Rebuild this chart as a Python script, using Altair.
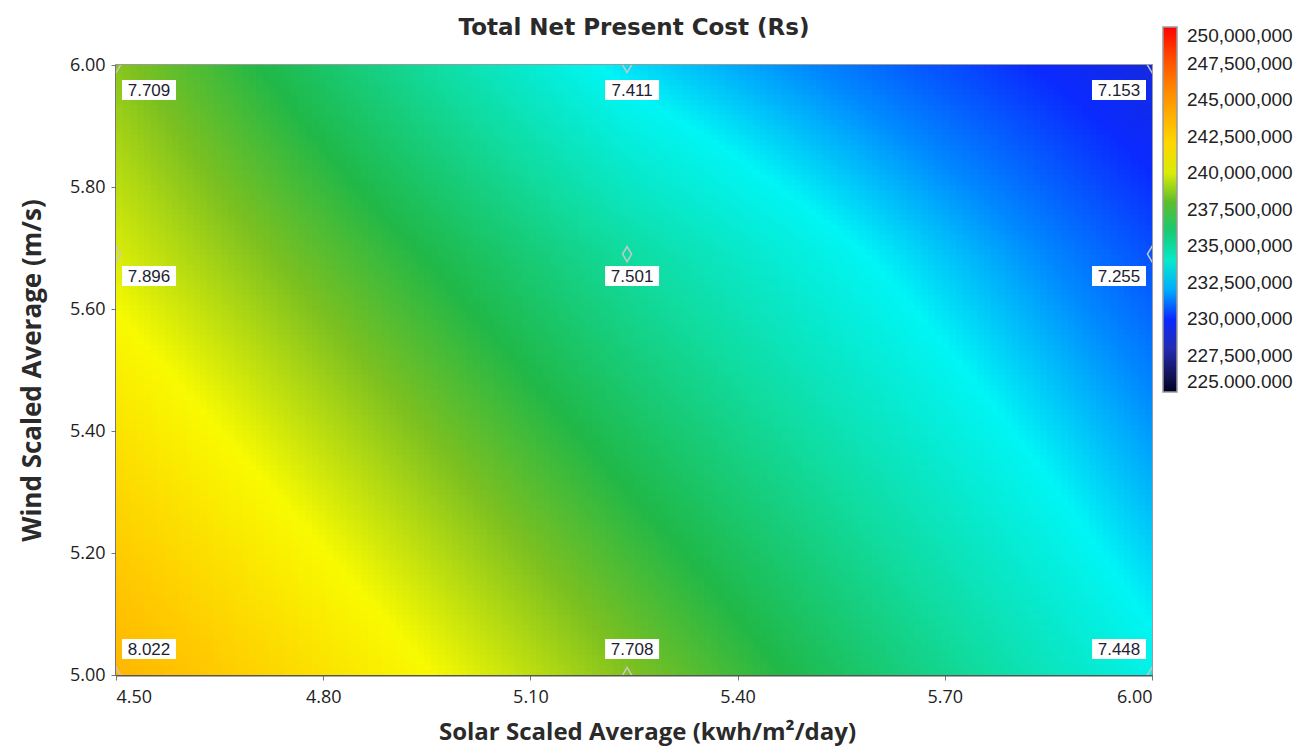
import altair as alt
import numpy as np
import pandas as pd

# Sensitivity grid: solar and wind scaled averages that were simulated
solar_levels = [4.50, 5.24, 6.00]
wind_levels = [5.00, 5.69, 6.00]

# Total net present cost (million Rs) at each grid point, one list per wind level
npc_wind_500 = [243.6, 238.6, 233.3]
npc_wind_569 = [240.0, 235.0, 230.6]
npc_wind_600 = [238.7, 232.7, 229.2]

# Cost of energy printed at each grid point
coe_wind_500 = ["8.022", "7.708", "7.448"]
coe_wind_569 = ["7.896", "7.501", "7.255"]
coe_wind_600 = ["7.709", "7.411", "7.153"]

# Colour bar stops (Rs) and their colours
color_domain = [225.0e6, 227.5e6, 230.0e6, 231.5e6, 233.0e6, 235.0e6, 237.0e6,
                238.5e6, 240.5e6, 242.5e6, 245.0e6, 247.5e6, 250.0e6]
color_range = ["#000020", "#2b2b9e", "#0a2aff", "#0088ff", "#00f5f5", "#10dca0",
               "#20b848", "#7cc020", "#f8fa00", "#ffcc00", "#ff9a00", "#ff5a00", "#ff0000"]
legend_values = [225.0e6 + 2.5e6 * i for i in range(11)]

x_ticks = [4.5, 4.8, 5.1, 5.4, 5.7, 6.0]
y_ticks = [5.0, 5.2, 5.4, 5.6, 5.8, 6.0]

FONT = "Open Sans"
LABEL_FONT = "Liberation Sans"

# Shaded surface: the cost is shaded bilinearly between the simulated grid points
npc_grid = np.array([npc_wind_500, npc_wind_569, npc_wind_600]) * 1e6
n_cols, n_rows = 148, 122
s_edges = np.linspace(solar_levels[0], solar_levels[-1], n_cols + 1)
w_edges = np.linspace(wind_levels[0], wind_levels[-1], n_rows + 1)
s_mid = (s_edges[:-1] + s_edges[1:]) / 2
w_mid = (w_edges[:-1] + w_edges[1:]) / 2
records = []
for i, w in enumerate(w_mid):
    at_w = [np.interp(w, wind_levels, npc_grid[:, j]) for j in range(len(solar_levels))]
    vals = np.interp(s_mid, solar_levels, at_w)
    for k in range(n_cols):
        records.append((s_edges[k], s_edges[k + 1], w_edges[i], w_edges[i + 1], vals[k]))
cells = pd.DataFrame(records, columns=["s0", "s1", "w0", "w1", "npc"])

points = pd.DataFrame(
    [(s, w, lab)
     for w, labs in zip(wind_levels, [coe_wind_500, coe_wind_569, coe_wind_600])
     for s, lab in zip(solar_levels, labs)],
    columns=["solar", "wind", "label"],
)

xs = alt.Scale(domain=[4.5, 6.0], nice=False, zero=False)
ys = alt.Scale(domain=[5.0, 6.0], nice=False, zero=False)

heat = alt.Chart(cells).mark_rect().encode(
    x=alt.X("s0:Q", scale=xs,
            axis=alt.Axis(values=x_ticks, format=".2f", title="Solar Scaled Average (kwh/m²/day)",
                          labelPadding=8, titlePadding=14, titleFontSize=24, titleX=531)),
    x2="s1:Q",
    y=alt.Y("w0:Q", scale=ys,
            axis=alt.Axis(values=y_ticks, format=".2f", title="Wind Scaled Average (m/s)",
                          labelPadding=6, titlePadding=24, titleFontSize=26)),
    y2="w1:Q",
    color=alt.Color(
        "npc:Q",
        scale=alt.Scale(domain=color_domain, range=color_range, clamp=True,
                        interpolate="rgb"),
        legend=alt.Legend(
            orient="none", legendX=1047, legendY=-38, direction="vertical",
            gradientLength=365, gradientThickness=14, title=None,
            values=legend_values, labelOverlap=False,
            labelExpr="datum.value == 225000000 ? '225.000.000' : format(datum.value, ',')",
            labelFont=LABEL_FONT, labelFontSize=19, labelColor="#222222", labelOffset=10,
            gradientStrokeColor="#9a9a9a", gradientStrokeWidth=1.5, padding=0,
        ),
    ),
)

diamond = "M0,-1L0.6,0L0,1L-0.6,0Z"
markers = alt.Chart(points).mark_point(
    shape=diamond, size=230, filled=False, color="#c8c8c8", strokeWidth=1.5,
    opacity=1, clip=True,
).encode(x=alt.X("solar:Q", scale=xs), y=alt.Y("wind:Q", scale=ys))

# Label placement: right of left column, centred in middle, left of right column;
# below the point on the upper rows, above it on the bottom row
col_dx = {4.50: 33, 5.24: 5, 6.00: -33}
row_dy = {6.00: 25, 5.69: 22, 5.00: -26}

label_layers = []
for _, r in points.iterrows():
    dx, dy = col_dx[r["solar"]], row_dy[r["wind"]]
    one = alt.Chart(pd.DataFrame([r])).encode(
        x=alt.X("solar:Q", scale=xs), y=alt.Y("wind:Q", scale=ys))
    label_layers.append(one.mark_rect(width=54, height=20, color="white",
                                      xOffset=dx, yOffset=dy))
    label_layers.append(one.mark_text(font=LABEL_FONT, fontSize=17, color="#1c2232",
                                      align="center", baseline="middle",
                                      dx=dx, dy=dy + 1).encode(text="label:N"))

chart = alt.layer(heat, markers, *label_layers).properties(
    width=1036, height=610,
    autosize=alt.AutoSizeParams(type="none"),
    padding={"left": 116, "top": 65, "right": 157, "bottom": 75},
    title=alt.TitleParams("Total Net Present Cost (Rs)", font="DejaVu Sans", fontSize=23,
                          fontWeight="bold", color="#2a2a2a", offset=-13, anchor="middle",
                          frame="group"),
).configure_view(
    stroke="#9a9a9a", strokeWidth=2,
).configure_axis(
    grid=False, domainColor="#555555", domainWidth=2, tickColor="#777777", tickSize=5,
    labelFont=FONT, labelFontSize=18, labelColor="#222222",
    titleFont=FONT, titleFontWeight="bold", titleColor="#2a2a2a",
)

chart.save("out.html", embed_options={"renderer": "svg", "actions": False})
